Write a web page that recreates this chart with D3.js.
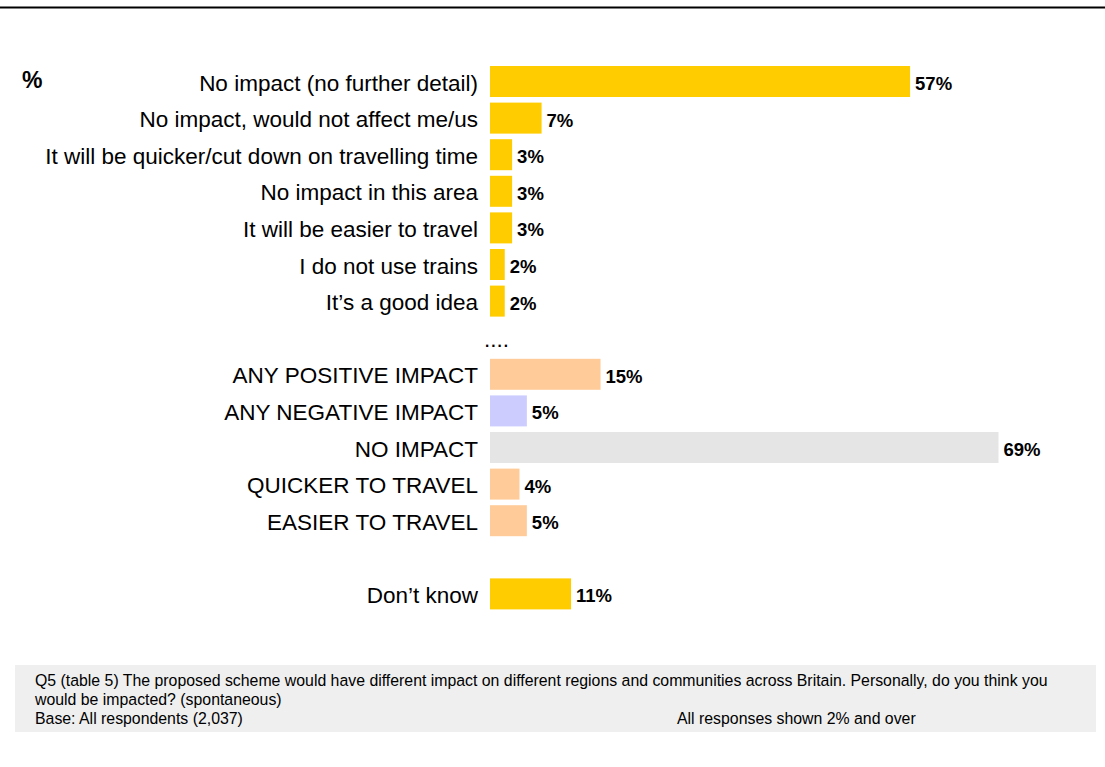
<!DOCTYPE html>
<html>
<head>
<meta charset="utf-8">
<script src="https://cdn.jsdelivr.net/npm/d3@7"></script>
<style>
  html, body { margin: 0; padding: 0; background: #fff; }
  svg { display: block; font-family: "Liberation Sans", Arial, sans-serif; }
</style>
</head>
<body>
<svg id="chart" width="1105" height="767"></svg>
<script>
// ---- data ----
const categories = [
  "No impact (no further detail)",
  "No impact, would not affect me/us",
  "It will be quicker/cut down on travelling time",
  "No impact in this area",
  "It will be easier to travel",
  "I do not use trains",
  "It\u2019s a good idea",
  "....",
  "ANY POSITIVE IMPACT",
  "ANY NEGATIVE IMPACT",
  "NO IMPACT",
  "QUICKER TO TRAVEL",
  "EASIER TO TRAVEL",
  "",
  "Don\u2019t know"
];
const values = [57, 7, 3, 3, 3, 2, 2, null, 15, 5, 69, 4, 5, null, 11];
const groups = ["detail", "detail", "detail", "detail", "detail", "detail", "detail", "sep",
                "positive", "negative", "none", "positive", "positive", "blank", "detail"];
const groupColors = { detail: "#FFCC00", positive: "#FFCC99", negative: "#CCCCFF", none: "#E5E5E5" };
const footerLines = [
  "Q5 (table 5) The proposed scheme would have different impact on different regions and communities across Britain. Personally, do you think you",
  "would be impacted? (spontaneous)",
  "Base: All respondents (2,037)"
];
const footerNote = "All responses shown 2% and over";

// ---- layout ----
const W = 1105, H = 767;
const svg = d3.select("#chart");

const rows = categories.map((c, i) => ({ label: c, value: values[i], group: groups[i], idx: i }));

const y = d3.scaleBand()
  .domain(d3.range(categories.length))
  .range([63.2, 612.2])
  .paddingInner(0.153)
  .paddingOuter(0.0765);

const x = d3.scaleLinear().domain([0, 69]).range([490, 998.5]);

// top rule
svg.append("line")
  .attr("x1", 0).attr("x2", W)
  .attr("y1", 7.5).attr("y2", 7.5)
  .attr("stroke", "#000").attr("stroke-width", 2.2);

// "%" marker
svg.append("text")
  .attr("x", 22).attr("y", 88)
  .attr("font-size", 23).attr("font-weight", "bold")
  .attr("fill", "#000")
  .text("%");

// bars
const barRows = rows.filter(d => d.value != null);
svg.append("g").selectAll("rect")
  .data(barRows)
  .join("rect")
  .attr("x", x(0))
  .attr("y", d => y(d.idx))
  .attr("width", d => x(d.value) - x(0))
  .attr("height", y.bandwidth())
  .attr("fill", d => groupColors[d.group]);

// category labels
svg.append("g").selectAll("text")
  .data(rows.filter(d => d.label !== ""))
  .join("text")
  .attr("x", d => d.group === "sep" ? x(0) - 6 : x(0) - 12)
  .attr("y", d => y(d.idx) + y.bandwidth() / 2 + 9)
  .attr("text-anchor", d => d.group === "sep" ? "start" : "end")
  .attr("font-size", 22.5)
  .attr("fill", "#000")
  .text(d => d.label);

// value labels
svg.append("g").selectAll("text")
  .data(barRows)
  .join("text")
  .attr("x", d => x(d.value) + 5)
  .attr("y", d => y(d.idx) + y.bandwidth() / 2 + 8.5)
  .attr("font-size", 18.5)
  .attr("font-weight", "bold")
  .attr("fill", "#000")
  .text(d => d.value + "%");

// footer
svg.append("rect")
  .attr("x", 15).attr("y", 665)
  .attr("width", 1081).attr("height", 67)
  .attr("fill", "#EFEFEF");

svg.append("g").selectAll("text")
  .data(footerLines)
  .join("text")
  .attr("x", 35)
  .attr("y", (d, i) => 685.5 + i * 19)
  .attr("font-size", 15.85)
  .attr("fill", "#000")
  .text(d => d);

svg.append("text")
  .attr("x", 677).attr("y", 685.5 + 2 * 19)
  .attr("font-size", 15.85)
  .attr("fill", "#000")
  .text(footerNote);
</script>
</body>
</html>
